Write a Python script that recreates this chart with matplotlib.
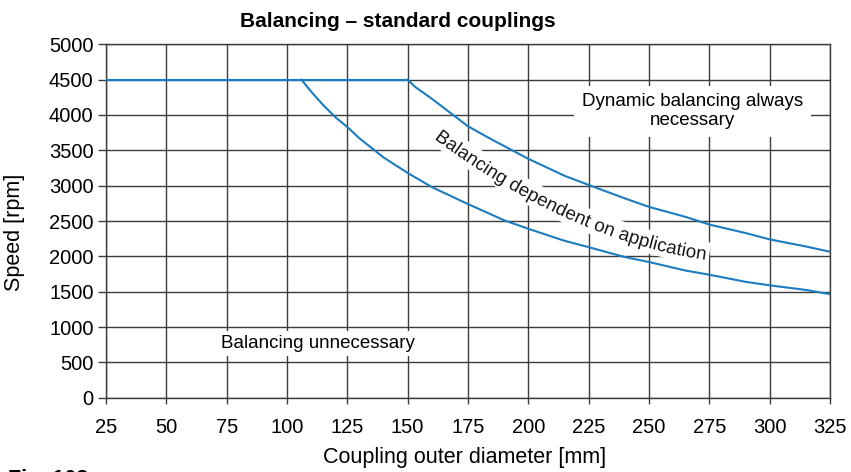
import numpy as np
import matplotlib
matplotlib.use("Agg")
import matplotlib.pyplot as plt
from matplotlib.textpath import TextPath
from matplotlib.font_manager import FontProperties
from matplotlib.patches import PathPatch
from matplotlib.path import Path
from matplotlib.transforms import IdentityTransform

# data
diam_lower = [106, 110, 115, 120, 125, 130, 140, 150, 160, 175, 190, 200,
              215, 225, 240, 250, 265, 275, 290, 300, 315, 325]
speed_lower = [4500, 4330, 4140, 3970, 3830, 3670, 3400, 3180, 2980, 2740, 2510, 2390,
               2220, 2130, 1990, 1920, 1800, 1740, 1640, 1590, 1525, 1465]
diam_upper = [150, 153, 160, 170, 175, 185, 200, 215, 225, 240, 250,
              265, 275, 290, 300, 315, 325]
speed_upper = [4500, 4400, 4230, 3970, 3840, 3650, 3380, 3140, 3010, 2820, 2700,
               2560, 2450, 2330, 2240, 2140, 2065]
diam_flat = [25, 150]
speed_flat = [4500, 4500]

x_ticks = [25, 50, 75, 100, 125, 150, 175, 200, 225, 250, 275, 300, 325]
y_ticks = [0, 500, 1000, 1500, 2000, 2500, 3000, 3500, 4000, 4500, 5000]

BLUE = '#1b7cc0'
GRID = '#3c3c3c'
FS = 13.5        # in-plot labels
FS_TICK = 14.5
FS_AXIS = 15.5
plt.rcParams['font.family'] = ['Liberation Sans', 'DejaVu Sans']

fig = plt.figure(figsize=(8.51, 4.72), dpi=100)
ax = fig.add_axes([0.1246, 0.1574, 0.8507, 0.7487])

ax.plot(diam_flat, speed_flat, color=BLUE, lw=1.5, zorder=4)
ax.plot(diam_lower, speed_lower, color=BLUE, lw=1.5, zorder=4)
ax.plot(diam_upper, speed_upper, color=BLUE, lw=1.5, zorder=4)

ax.set_xlim(25, 325)
ax.set_ylim(0, 5000)
ax.set_xticks(x_ticks)
ax.set_yticks(y_ticks)
ax.set_axisbelow(True)
ax.grid(True, color=GRID, lw=1.0)
for sp in ax.spines.values():
    sp.set_color(GRID)
    sp.set_linewidth(1.0)
ax.tick_params(axis='both', direction='out', width=1, color=GRID,
               labelsize=FS_TICK)
ax.tick_params(axis='x', length=4.3, pad=10.5)
ax.tick_params(axis='y', length=6, pad=3)

fig.text(465 / 851, 1 - 463 / 472, 'Coupling outer diameter [mm]',
         ha='center', va='baseline', fontsize=FS_AXIS)
fig.text(15 / 851, 1 - 232 / 472, 'Speed [rpm]', rotation=90,
         ha='center', va='center', fontsize=FS_AXIS)
fig.text(397.5 / 851, 1 - 26.7 / 472, 'Balancing \u2013 standard couplings',
         ha='center', va='baseline', fontsize=15, fontweight='bold')
fig.text(8 / 851, 1 - 469.5 / 472, 'Fig. 108', ha='left', va='top',
         fontsize=FS_AXIS, fontweight='bold')

ax.text(268.0, 4050, 'Dynamic balancing always\nnecessary', ha='center',
        va='center', fontsize=FS, zorder=3, linespacing=1.15,
        bbox=dict(facecolor='white', edgecolor='none', pad=5.5))
ax.text(113.0, 770, 'Balancing unnecessary', ha='center', va='center',
        fontsize=FS, zorder=3,
        bbox=dict(facecolor='white', edgecolor='none', pad=3))

# curved label between the two curves
label = 'Balancing dependent on application'
guide_x = [163.4, 175.8, 207.6, 231.8, 254.6, 272.5]
guide_y = [3717, 3434, 2773, 2419, 2185, 2047]
P = ax.transData.transform(np.column_stack([guide_x, guide_y]))
coef = np.polyfit(P[:, 0], P[:, 1], 2)
dcoef = np.polyder(coef)
u = np.linspace(P[0, 0] - 80, P[-1, 0] + 80, 3000)
v = np.polyval(coef, u)
arc = np.concatenate([[0], np.cumsum(np.hypot(np.diff(u), np.diff(v)))])
s_a = np.interp(P[0, 0], u, arc)
s_b = np.interp(P[-1, 0], u, arc)

fs_px = FS * fig.dpi / 72
tp = TextPath((0, 0), label, size=fs_px, prop=FontProperties(family='Liberation Sans'))
W = tp.vertices[:, 0].max()
s0 = (s_a + s_b) / 2 - W / 2
mid = 0.36 * fs_px


def warp(a, b):
    s = s0 + a
    px = np.interp(s, arc, u)
    py = np.polyval(coef, px)
    sl = np.polyval(dcoef, px)
    nrm = np.hypot(1, sl)
    tx, ty = 1 / nrm, sl / nrm
    nx, ny = -ty, tx
    bb = b - mid
    return np.column_stack([px + bb * nx, py + bb * ny])


ta = np.linspace(-4, W + 4, 200)
band_top = warp(ta, np.full_like(ta, fs_px * 0.95))
band_bot = warp(ta[::-1], np.full_like(ta, -fs_px * 0.3))
band = np.vstack([band_top, band_bot])
ax.add_patch(plt.Polygon(band, closed=True, transform=IdentityTransform(),
                         facecolor='white', edgecolor='none', zorder=2.5))
tv = warp(tp.vertices[:, 0], tp.vertices[:, 1])
ax.add_patch(PathPatch(Path(tv, tp.codes), transform=IdentityTransform(),
                       facecolor='#1a1a1a', edgecolor='none', lw=0, zorder=2.6))

fig.savefig('out.png', dpi=100)
